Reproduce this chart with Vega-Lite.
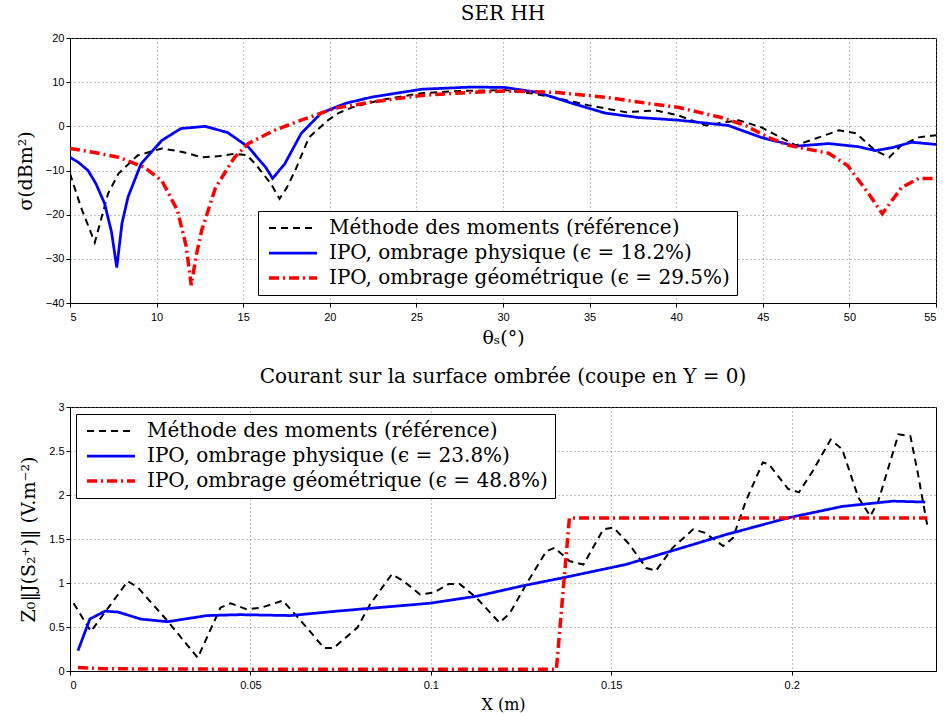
{
  "$schema": "https://vega.github.io/schema/vega-lite/v6.json",
  "autosize": {"type": "pad"},
  "padding": {"left": 15, "top": 3, "right": 5, "bottom": 0},
  "background": "white",
  "bounds": "flush",
  "spacing": 104,
  "config": {
    "view": {"stroke": "black", "strokeWidth": 1},
    "axis": {
      "labelFont": "Liberation Sans", "labelFontSize": 11, "labelColor": "black",
      "titleFont": "DejaVu Serif", "titleFontWeight": "normal", "titleColor": "black",
      "gridDash": [1, 3], "gridColor": "#777", "gridOpacity": 0.9,
      "domainColor": "black", "tickColor": "black", "tickSize": 4
    },
    "legend": {
      "orient": "none", "title": null, "strokeColor": "black", "fillColor": "white", "padding": 7,
      "labelFont": "DejaVu Serif", "labelFontSize": 20, "labelColor": "black", "labelLimit": 700,
      "symbolType": "M-1,0H7", "symbolSize": 144, "rowPadding": 5, "labelOffset": 44
    },
    "title": {"font": "DejaVu Serif", "fontWeight": "normal", "fontSize": 20, "color": "black", "anchor": "middle"}
  },
  "datasets": {
    "ser": [
      {"s": "Méthode des moments (référence)", "x": 5, "y": -10.7},
      {"s": "Méthode des moments (référence)", "x": 5.64, "y": -18.4},
      {"s": "Méthode des moments (référence)", "x": 6.43, "y": -26.3},
      {"s": "Méthode des moments (référence)", "x": 6.8, "y": -21},
      {"s": "Méthode des moments (référence)", "x": 7.2, "y": -15.2},
      {"s": "Méthode des moments (référence)", "x": 7.8, "y": -10.7},
      {"s": "Méthode des moments (référence)", "x": 8.9, "y": -6.6},
      {"s": "Méthode des moments (référence)", "x": 10.3, "y": -5.0},
      {"s": "Méthode des moments (référence)", "x": 11.5, "y": -5.8},
      {"s": "Méthode des moments (référence)", "x": 12.6, "y": -7.0},
      {"s": "Méthode des moments (référence)", "x": 13.5, "y": -6.8},
      {"s": "Méthode des moments (référence)", "x": 14.5, "y": -6.2},
      {"s": "Méthode des moments (référence)", "x": 15.2, "y": -6.5},
      {"s": "Méthode des moments (référence)", "x": 15.7, "y": -8.5},
      {"s": "Méthode des moments (référence)", "x": 16.6, "y": -13},
      {"s": "Méthode des moments (référence)", "x": 17.1, "y": -16.4},
      {"s": "Méthode des moments (référence)", "x": 17.5, "y": -14},
      {"s": "Méthode des moments (référence)", "x": 18.0, "y": -10},
      {"s": "Méthode des moments (référence)", "x": 18.8, "y": -2.5},
      {"s": "Méthode des moments (référence)", "x": 19.9, "y": 1.4},
      {"s": "Méthode des moments (référence)", "x": 20.5, "y": 3},
      {"s": "Méthode des moments (référence)", "x": 21.3, "y": 4.3},
      {"s": "Méthode des moments (référence)", "x": 23, "y": 6},
      {"s": "Méthode des moments (référence)", "x": 25.3, "y": 7.5},
      {"s": "Méthode des moments (référence)", "x": 27.5, "y": 8.0},
      {"s": "Méthode des moments (référence)", "x": 30.1, "y": 8.2},
      {"s": "Méthode des moments (référence)", "x": 31.6, "y": 7.5},
      {"s": "Méthode des moments (référence)", "x": 33, "y": 6.5},
      {"s": "Méthode des moments (référence)", "x": 34.9, "y": 4.8},
      {"s": "Méthode des moments (référence)", "x": 37.1, "y": 3.2},
      {"s": "Méthode des moments (référence)", "x": 38.8, "y": 3.6},
      {"s": "Méthode des moments (référence)", "x": 40.1, "y": 2.5},
      {"s": "Méthode des moments (référence)", "x": 41.7, "y": 0.2},
      {"s": "Méthode des moments (référence)", "x": 43.6, "y": 1.4},
      {"s": "Méthode des moments (référence)", "x": 44.9, "y": -0.2},
      {"s": "Méthode des moments (référence)", "x": 46.9, "y": -4.3},
      {"s": "Méthode des moments (référence)", "x": 48.1, "y": -2.7},
      {"s": "Méthode des moments (référence)", "x": 49.4, "y": -0.9},
      {"s": "Méthode des moments (référence)", "x": 50.4, "y": -1.6},
      {"s": "Méthode des moments (référence)", "x": 51.5, "y": -5.5},
      {"s": "Méthode des moments (référence)", "x": 52.3, "y": -7},
      {"s": "Méthode des moments (référence)", "x": 53.0, "y": -4.3},
      {"s": "Méthode des moments (référence)", "x": 54.0, "y": -2.5},
      {"s": "Méthode des moments (référence)", "x": 55, "y": -2},
      {"s": "IPO, ombrage physique (ϵ = 18.2%)", "x": 5, "y": -7},
      {"s": "IPO, ombrage physique (ϵ = 18.2%)", "x": 5.5, "y": -8.2},
      {"s": "IPO, ombrage physique (ϵ = 18.2%)", "x": 6.04, "y": -10},
      {"s": "IPO, ombrage physique (ϵ = 18.2%)", "x": 6.5, "y": -13},
      {"s": "IPO, ombrage physique (ϵ = 18.2%)", "x": 7.0, "y": -17.5},
      {"s": "IPO, ombrage physique (ϵ = 18.2%)", "x": 7.4, "y": -24},
      {"s": "IPO, ombrage physique (ϵ = 18.2%)", "x": 7.7, "y": -32},
      {"s": "IPO, ombrage physique (ϵ = 18.2%)", "x": 8.0, "y": -22},
      {"s": "IPO, ombrage physique (ϵ = 18.2%)", "x": 8.35, "y": -16},
      {"s": "IPO, ombrage physique (ϵ = 18.2%)", "x": 9.1, "y": -8.5},
      {"s": "IPO, ombrage physique (ϵ = 18.2%)", "x": 10.3, "y": -3.2},
      {"s": "IPO, ombrage physique (ϵ = 18.2%)", "x": 11.4, "y": -0.5},
      {"s": "IPO, ombrage physique (ϵ = 18.2%)", "x": 12.8, "y": 0},
      {"s": "IPO, ombrage physique (ϵ = 18.2%)", "x": 14.1, "y": -1.4},
      {"s": "IPO, ombrage physique (ϵ = 18.2%)", "x": 15.3, "y": -4.7},
      {"s": "IPO, ombrage physique (ϵ = 18.2%)", "x": 16.3, "y": -9.3},
      {"s": "IPO, ombrage physique (ϵ = 18.2%)", "x": 16.7, "y": -11.8},
      {"s": "IPO, ombrage physique (ϵ = 18.2%)", "x": 17.4, "y": -8.5},
      {"s": "IPO, ombrage physique (ϵ = 18.2%)", "x": 18.35, "y": -1.6},
      {"s": "IPO, ombrage physique (ϵ = 18.2%)", "x": 19.5, "y": 3},
      {"s": "IPO, ombrage physique (ϵ = 18.2%)", "x": 20.9, "y": 5.2},
      {"s": "IPO, ombrage physique (ϵ = 18.2%)", "x": 22.4, "y": 6.6},
      {"s": "IPO, ombrage physique (ϵ = 18.2%)", "x": 25.3, "y": 8.4},
      {"s": "IPO, ombrage physique (ϵ = 18.2%)", "x": 28.2, "y": 8.9},
      {"s": "IPO, ombrage physique (ϵ = 18.2%)", "x": 30.1, "y": 8.8},
      {"s": "IPO, ombrage physique (ϵ = 18.2%)", "x": 32.0, "y": 7.7},
      {"s": "IPO, ombrage physique (ϵ = 18.2%)", "x": 34.0, "y": 5.2},
      {"s": "IPO, ombrage physique (ϵ = 18.2%)", "x": 35.9, "y": 3},
      {"s": "IPO, ombrage physique (ϵ = 18.2%)", "x": 37.8, "y": 2},
      {"s": "IPO, ombrage physique (ϵ = 18.2%)", "x": 40.1, "y": 1.4},
      {"s": "IPO, ombrage physique (ϵ = 18.2%)", "x": 43.0, "y": 0.2},
      {"s": "IPO, ombrage physique (ϵ = 18.2%)", "x": 44.9, "y": -2.5},
      {"s": "IPO, ombrage physique (ϵ = 18.2%)", "x": 46.9, "y": -4.5},
      {"s": "IPO, ombrage physique (ϵ = 18.2%)", "x": 48.8, "y": -3.9},
      {"s": "IPO, ombrage physique (ϵ = 18.2%)", "x": 50.5, "y": -4.6},
      {"s": "IPO, ombrage physique (ϵ = 18.2%)", "x": 51.5, "y": -5.5},
      {"s": "IPO, ombrage physique (ϵ = 18.2%)", "x": 52.5, "y": -4.8},
      {"s": "IPO, ombrage physique (ϵ = 18.2%)", "x": 53.6, "y": -3.6},
      {"s": "IPO, ombrage physique (ϵ = 18.2%)", "x": 55, "y": -4.1},
      {"s": "IPO, ombrage géométrique (ϵ = 29.5%)", "x": 5, "y": -5},
      {"s": "IPO, ombrage géométrique (ϵ = 29.5%)", "x": 6.5, "y": -6},
      {"s": "IPO, ombrage géométrique (ϵ = 29.5%)", "x": 7.8, "y": -7},
      {"s": "IPO, ombrage géométrique (ϵ = 29.5%)", "x": 9.3, "y": -9.3},
      {"s": "IPO, ombrage géométrique (ϵ = 29.5%)", "x": 10.3, "y": -12.3},
      {"s": "IPO, ombrage géométrique (ϵ = 29.5%)", "x": 11.2, "y": -19},
      {"s": "IPO, ombrage géométrique (ϵ = 29.5%)", "x": 11.7, "y": -27},
      {"s": "IPO, ombrage géométrique (ϵ = 29.5%)", "x": 12.0, "y": -36},
      {"s": "IPO, ombrage géométrique (ϵ = 29.5%)", "x": 12.3, "y": -29},
      {"s": "IPO, ombrage géométrique (ϵ = 29.5%)", "x": 12.6, "y": -23.6},
      {"s": "IPO, ombrage géométrique (ϵ = 29.5%)", "x": 13.4, "y": -13.9},
      {"s": "IPO, ombrage géométrique (ϵ = 29.5%)", "x": 14.5, "y": -7},
      {"s": "IPO, ombrage géométrique (ϵ = 29.5%)", "x": 15.3, "y": -3.9},
      {"s": "IPO, ombrage géométrique (ϵ = 29.5%)", "x": 16.8, "y": -0.9},
      {"s": "IPO, ombrage géométrique (ϵ = 29.5%)", "x": 18.35, "y": 1.4},
      {"s": "IPO, ombrage géométrique (ϵ = 29.5%)", "x": 20.3, "y": 4.1},
      {"s": "IPO, ombrage géométrique (ϵ = 29.5%)", "x": 22.4, "y": 5.5},
      {"s": "IPO, ombrage géométrique (ϵ = 29.5%)", "x": 25.3, "y": 7},
      {"s": "IPO, ombrage géométrique (ϵ = 29.5%)", "x": 28.2, "y": 7.7},
      {"s": "IPO, ombrage géométrique (ϵ = 29.5%)", "x": 30.1, "y": 8},
      {"s": "IPO, ombrage géométrique (ϵ = 29.5%)", "x": 33, "y": 7.7},
      {"s": "IPO, ombrage géométrique (ϵ = 29.5%)", "x": 35.9, "y": 6.6},
      {"s": "IPO, ombrage géométrique (ϵ = 29.5%)", "x": 37.8, "y": 5.5},
      {"s": "IPO, ombrage géométrique (ϵ = 29.5%)", "x": 40.1, "y": 4.3},
      {"s": "IPO, ombrage géométrique (ϵ = 29.5%)", "x": 42.6, "y": 2},
      {"s": "IPO, ombrage géométrique (ϵ = 29.5%)", "x": 44, "y": 0.2},
      {"s": "IPO, ombrage géométrique (ϵ = 29.5%)", "x": 45.3, "y": -2.5},
      {"s": "IPO, ombrage géométrique (ϵ = 29.5%)", "x": 46.5, "y": -4.3},
      {"s": "IPO, ombrage géométrique (ϵ = 29.5%)", "x": 48.8, "y": -6.1},
      {"s": "IPO, ombrage géométrique (ϵ = 29.5%)", "x": 49.9, "y": -8.9},
      {"s": "IPO, ombrage géométrique (ϵ = 29.5%)", "x": 51.1, "y": -15.2},
      {"s": "IPO, ombrage géométrique (ϵ = 29.5%)", "x": 51.9, "y": -19.8},
      {"s": "IPO, ombrage géométrique (ϵ = 29.5%)", "x": 53.0, "y": -13.9},
      {"s": "IPO, ombrage géométrique (ϵ = 29.5%)", "x": 54.0, "y": -11.8},
      {"s": "IPO, ombrage géométrique (ϵ = 29.5%)", "x": 55, "y": -11.8}
    ],
    "courant": [
      {"s": "Méthode des moments (référence)", "x": 0.001, "y": 0.77},
      {"s": "Méthode des moments (référence)", "x": 0.0058, "y": 0.45},
      {"s": "Méthode des moments (référence)", "x": 0.016, "y": 1.02},
      {"s": "Méthode des moments (référence)", "x": 0.0188, "y": 0.95},
      {"s": "Méthode des moments (référence)", "x": 0.027, "y": 0.57},
      {"s": "Méthode des moments (référence)", "x": 0.0354, "y": 0.15},
      {"s": "Méthode des moments (référence)", "x": 0.0417, "y": 0.72},
      {"s": "Méthode des moments (référence)", "x": 0.0445, "y": 0.77},
      {"s": "Méthode des moments (référence)", "x": 0.049, "y": 0.70},
      {"s": "Méthode des moments (référence)", "x": 0.053, "y": 0.72},
      {"s": "Méthode des moments (référence)", "x": 0.059, "y": 0.80},
      {"s": "Méthode des moments (référence)", "x": 0.0657, "y": 0.49},
      {"s": "Méthode des moments (référence)", "x": 0.0704, "y": 0.26},
      {"s": "Méthode des moments (référence)", "x": 0.073, "y": 0.26},
      {"s": "Méthode des moments (référence)", "x": 0.0796, "y": 0.49},
      {"s": "Méthode des moments (référence)", "x": 0.0832, "y": 0.76},
      {"s": "Méthode des moments (référence)", "x": 0.0892, "y": 1.10},
      {"s": "Méthode des moments (référence)", "x": 0.0925, "y": 1.02},
      {"s": "Méthode des moments (référence)", "x": 0.097, "y": 0.87},
      {"s": "Méthode des moments (référence)", "x": 0.1008, "y": 0.89},
      {"s": "Méthode des moments (référence)", "x": 0.105, "y": 0.99},
      {"s": "Méthode des moments (référence)", "x": 0.108, "y": 0.99},
      {"s": "Méthode des moments (référence)", "x": 0.1127, "y": 0.83},
      {"s": "Méthode des moments (référence)", "x": 0.119, "y": 0.55},
      {"s": "Méthode des moments (référence)", "x": 0.1218, "y": 0.65},
      {"s": "Méthode des moments (référence)", "x": 0.1265, "y": 0.99},
      {"s": "Méthode des moments (référence)", "x": 0.132, "y": 1.36},
      {"s": "Méthode des moments (référence)", "x": 0.1343, "y": 1.40},
      {"s": "Méthode des moments (référence)", "x": 0.1384, "y": 1.25},
      {"s": "Méthode des moments (référence)", "x": 0.1423, "y": 1.21},
      {"s": "Méthode des moments (référence)", "x": 0.1478, "y": 1.61},
      {"s": "Méthode des moments (référence)", "x": 0.1506, "y": 1.63},
      {"s": "Méthode des moments (référence)", "x": 0.155, "y": 1.44},
      {"s": "Méthode des moments (référence)", "x": 0.1597, "y": 1.17},
      {"s": "Méthode des moments (référence)", "x": 0.1624, "y": 1.14},
      {"s": "Méthode des moments (référence)", "x": 0.167, "y": 1.40},
      {"s": "Méthode des moments (référence)", "x": 0.1727, "y": 1.61},
      {"s": "Méthode des moments (référence)", "x": 0.176, "y": 1.57},
      {"s": "Méthode des moments (référence)", "x": 0.181, "y": 1.42},
      {"s": "Méthode des moments (référence)", "x": 0.1837, "y": 1.51},
      {"s": "Méthode des moments (référence)", "x": 0.1873, "y": 1.93},
      {"s": "Méthode des moments (référence)", "x": 0.192, "y": 2.37},
      {"s": "Méthode des moments (référence)", "x": 0.1937, "y": 2.35},
      {"s": "Méthode des moments (référence)", "x": 0.199, "y": 2.07},
      {"s": "Méthode des moments (référence)", "x": 0.202, "y": 2.03},
      {"s": "Méthode des moments (référence)", "x": 0.2058, "y": 2.27},
      {"s": "Méthode des moments (référence)", "x": 0.2108, "y": 2.63},
      {"s": "Méthode des moments (référence)", "x": 0.214, "y": 2.52},
      {"s": "Méthode des moments (référence)", "x": 0.2185, "y": 1.97},
      {"s": "Méthode des moments (référence)", "x": 0.2218, "y": 1.76},
      {"s": "Méthode des moments (référence)", "x": 0.224, "y": 1.93},
      {"s": "Méthode des moments (référence)", "x": 0.2296, "y": 2.69},
      {"s": "Méthode des moments (référence)", "x": 0.2329, "y": 2.67},
      {"s": "Méthode des moments (référence)", "x": 0.235, "y": 2.24},
      {"s": "Méthode des moments (référence)", "x": 0.2376, "y": 1.65},
      {"s": "IPO, ombrage physique (ϵ = 23.8%)", "x": 0.0022, "y": 0.23},
      {"s": "IPO, ombrage physique (ϵ = 23.8%)", "x": 0.0055, "y": 0.59},
      {"s": "IPO, ombrage physique (ϵ = 23.8%)", "x": 0.0097, "y": 0.68},
      {"s": "IPO, ombrage physique (ϵ = 23.8%)", "x": 0.0133, "y": 0.67},
      {"s": "IPO, ombrage physique (ϵ = 23.8%)", "x": 0.0196, "y": 0.59},
      {"s": "IPO, ombrage physique (ϵ = 23.8%)", "x": 0.027, "y": 0.56},
      {"s": "IPO, ombrage physique (ϵ = 23.8%)", "x": 0.038, "y": 0.63},
      {"s": "IPO, ombrage physique (ϵ = 23.8%)", "x": 0.0472, "y": 0.64},
      {"s": "IPO, ombrage physique (ϵ = 23.8%)", "x": 0.061, "y": 0.63},
      {"s": "IPO, ombrage physique (ϵ = 23.8%)", "x": 0.074, "y": 0.68},
      {"s": "IPO, ombrage physique (ϵ = 23.8%)", "x": 0.0796, "y": 0.70},
      {"s": "IPO, ombrage physique (ϵ = 23.8%)", "x": 0.0997, "y": 0.77},
      {"s": "IPO, ombrage physique (ϵ = 23.8%)", "x": 0.1127, "y": 0.85},
      {"s": "IPO, ombrage physique (ϵ = 23.8%)", "x": 0.1257, "y": 0.97},
      {"s": "IPO, ombrage physique (ϵ = 23.8%)", "x": 0.1367, "y": 1.06},
      {"s": "IPO, ombrage physique (ϵ = 23.8%)", "x": 0.154, "y": 1.21},
      {"s": "IPO, ombrage physique (ϵ = 23.8%)", "x": 0.168, "y": 1.38},
      {"s": "IPO, ombrage physique (ϵ = 23.8%)", "x": 0.1818, "y": 1.55},
      {"s": "IPO, ombrage physique (ϵ = 23.8%)", "x": 0.199, "y": 1.74},
      {"s": "IPO, ombrage physique (ϵ = 23.8%)", "x": 0.214, "y": 1.87},
      {"s": "IPO, ombrage physique (ϵ = 23.8%)", "x": 0.228, "y": 1.93},
      {"s": "IPO, ombrage physique (ϵ = 23.8%)", "x": 0.237, "y": 1.92},
      {"s": "IPO, ombrage géométrique (ϵ = 48.8%)", "x": 0.0022, "y": 0.04},
      {"s": "IPO, ombrage géométrique (ϵ = 48.8%)", "x": 0.01, "y": 0.025},
      {"s": "IPO, ombrage géométrique (ϵ = 48.8%)", "x": 0.05, "y": 0.02},
      {"s": "IPO, ombrage géométrique (ϵ = 48.8%)", "x": 0.1, "y": 0.02},
      {"s": "IPO, ombrage géométrique (ϵ = 48.8%)", "x": 0.1348, "y": 0.02},
      {"s": "IPO, ombrage géométrique (ϵ = 48.8%)", "x": 0.1384, "y": 1.74},
      {"s": "IPO, ombrage géométrique (ϵ = 48.8%)", "x": 0.2376, "y": 1.74}
    ]
  },
  "vconcat": [
    {
      "width": 866,
      "height": 265,
      "title": {"text": "SER HH", "offset": 8},
      "data": {"name": "ser"},
      "mark": {"type": "line", "clip": true},
      "encoding": {
        "x": {"field": "x", "type": "quantitative", "scale": {"domain": [5, 55], "nice": false},
              "axis": {"values": [5, 10, 15, 20, 25, 30, 35, 40, 45, 50, 55], "title": "θₛ(°)", "titleFontSize": 19, "titlePadding": 6, "labelPadding": 4}},
        "y": {"field": "y", "type": "quantitative", "scale": {"domain": [-40, 20], "nice": false},
              "axis": {"values": [-40, -30, -20, -10, 0, 10, 20], "title": "σ(dBm²)", "titleFontSize": 19, "titlePadding": 10}},
        "color": {"field": "s", "type": "nominal",
                  "scale": {"domain": ["Méthode des moments (référence)", "IPO, ombrage physique (ϵ = 18.2%)", "IPO, ombrage géométrique (ϵ = 29.5%)"], "range": ["black", "#0000ff", "#ff0000"]},
                  "legend": {"legendX": 188, "legendY": 173}},
        "strokeDash": {"field": "s", "type": "nominal",
                       "scale": {"domain": ["Méthode des moments (référence)", "IPO, ombrage physique (ϵ = 18.2%)", "IPO, ombrage géométrique (ϵ = 29.5%)"], "range": [[7, 5], [1, 0], [10, 4, 2, 4]]}},
        "strokeWidth": {"field": "s", "type": "nominal",
                        "scale": {"domain": ["Méthode des moments (référence)", "IPO, ombrage physique (ϵ = 18.2%)", "IPO, ombrage géométrique (ϵ = 29.5%)"], "range": [2, 3.5, 3.5]}}
      }
    },
    {
      "width": 866,
      "height": 264,
      "title": {"text": "Courant sur la surface ombrée (coupe en Y = 0)", "offset": 14},
      "data": {"name": "courant"},
      "mark": {"type": "line", "clip": true},
      "encoding": {
        "x": {"field": "x", "type": "quantitative", "scale": {"domain": [0, 0.24], "nice": false},
              "axis": {"values": [0, 0.05, 0.1, 0.15, 0.2], "format": ".2~f", "title": "X (m)", "titleFontSize": 16, "titlePadding": 6, "labelPadding": 4}},
        "y": {"field": "y", "type": "quantitative", "scale": {"domain": [0, 3], "nice": false},
              "axis": {"values": [0, 0.5, 1, 1.5, 2, 2.5, 3], "format": "~g", "title": "Z₀‖J(S₂⁺)‖ (V.m⁻²)", "titleFontSize": 19, "titlePadding": 10}},
        "color": {"field": "s", "type": "nominal",
                  "scale": {"domain": ["Méthode des moments (référence)", "IPO, ombrage physique (ϵ = 23.8%)", "IPO, ombrage géométrique (ϵ = 48.8%)"], "range": ["black", "#0000ff", "#ff0000"]},
                  "legend": {"legendX": 6, "legendY": 7}},
        "strokeDash": {"field": "s", "type": "nominal",
                       "scale": {"domain": ["Méthode des moments (référence)", "IPO, ombrage physique (ϵ = 23.8%)", "IPO, ombrage géométrique (ϵ = 48.8%)"], "range": [[7, 5], [1, 0], [10, 4, 2, 4]]}},
        "strokeWidth": {"field": "s", "type": "nominal",
                        "scale": {"domain": ["Méthode des moments (référence)", "IPO, ombrage physique (ϵ = 23.8%)", "IPO, ombrage géométrique (ϵ = 48.8%)"], "range": [2, 3.5, 3.5]}}
      }
    }
  ],
  "resolve": {"scale": {"color": "independent", "strokeDash": "independent", "strokeWidth": "independent"}, "legend": {"color": "independent", "strokeDash": "independent", "strokeWidth": "independent"}}
}
